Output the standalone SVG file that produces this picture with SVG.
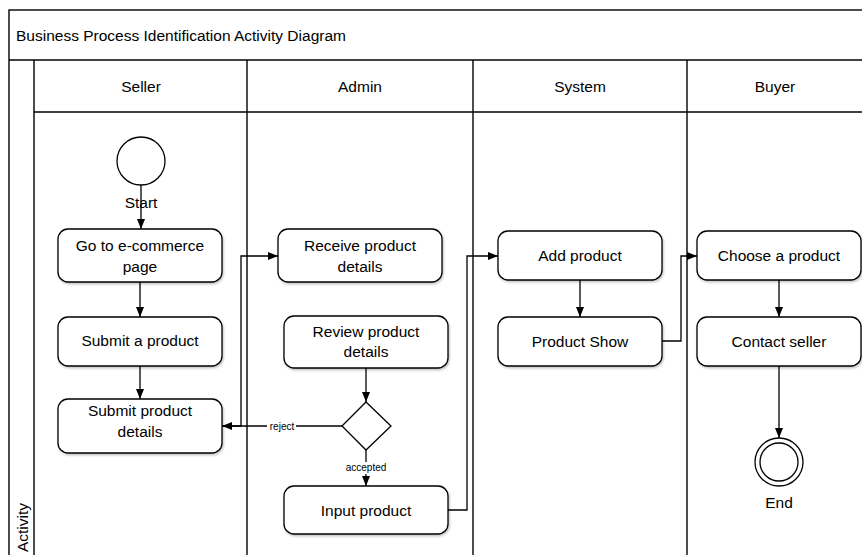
<svg xmlns="http://www.w3.org/2000/svg" width="862" height="555" viewBox="0 0 862 555">
<style>
text{font-family:"Liberation Sans",Arial,sans-serif;fill:#000}
.t{font-size:15.5px;text-anchor:middle}
.s{font-size:10px;text-anchor:middle}
.frame{fill:none;stroke:#000;stroke-width:1.4}
.box{fill:#fff;stroke:#000;stroke-width:1.3;filter:url(#sh)}
.ln{fill:none;stroke:#000;stroke-width:1.3}
.arr{fill:none;stroke:#000;stroke-width:1.3;marker-end:url(#ah)}
</style>
<defs>
<marker id="ah" viewBox="0 0 10 10" refX="10" refY="5" markerWidth="10" markerHeight="10" markerUnits="userSpaceOnUse" orient="auto">
<path d="M0,1 L10,5 L0,9 Z" fill="#000"/>
</marker>
<filter id="sh" x="-10%" y="-10%" width="130%" height="140%">
<feDropShadow dx="1" dy="1.5" stdDeviation="1" flood-color="#000" flood-opacity="0.25"/>
</filter>
</defs>
<rect width="862" height="555" fill="#fff"/>
<g id="pool">
<rect class="frame" x="9" y="10" width="900" height="600"/>
<line class="frame" x1="9" y1="60" x2="862" y2="60"/>
<line class="frame" x1="34" y1="60" x2="34" y2="555"/>
<line class="frame" x1="34" y1="112" x2="862" y2="112"/>
<line class="frame" x1="247" y1="60" x2="247" y2="555"/>
<line class="frame" x1="473" y1="60" x2="473" y2="555"/>
<line class="frame" x1="687" y1="60" x2="687" y2="555"/>
<text x="16" y="41" style="font-size:15.5px">Business Process Identification Activity Diagram</text>
<text class="t" x="141" y="92">Seller</text>
<text class="t" x="360" y="92">Admin</text>
<text class="t" x="580" y="92">System</text>
<text class="t" x="775" y="92">Buyer</text>
<text transform="translate(28,503) rotate(-90)" style="font-size:15.5px;text-anchor:end">Activity</text>
</g>
<g id="start">
<circle cx="141" cy="161" r="24" fill="#fff" stroke="#000" stroke-width="1.3"/>
<text class="t" x="141" y="208">Start</text>
</g>
<g id="goto"><rect class="box" x="58" y="229" width="164" height="53" rx="10"/><text class="t" x="140" y="251">Go to e-commerce</text><text class="t" x="140" y="272">page</text></g>
<g id="submit"><rect class="box" x="58" y="317" width="164" height="49" rx="10"/><text class="t" x="140" y="346">Submit a product</text></g>
<g id="submitdetails"><rect class="box" x="58" y="399" width="164" height="54" rx="10"/><text class="t" x="140" y="416">Submit product</text><text class="t" x="140" y="437">details</text></g>
<g id="receive"><rect class="box" x="278" y="229" width="164" height="53" rx="10"/><text class="t" x="360" y="251">Receive product</text><text class="t" x="360" y="272">details</text></g>
<g id="review"><rect class="box" x="284" y="316" width="164" height="52" rx="10"/><text class="t" x="366" y="337">Review product</text><text class="t" x="366" y="357">details</text></g>
<g id="decision"><path d="M366,402 L391,426 L366,450 L342,426 Z" fill="#fff" stroke="#000" stroke-width="1.3"/></g>
<g id="input"><rect class="box" x="284" y="486" width="164" height="48" rx="10"/><text class="t" x="366" y="516">Input product</text></g>
<g id="add"><rect class="box" x="498" y="231" width="164" height="49" rx="10"/><text class="t" x="580" y="261">Add product</text></g>
<g id="show"><rect class="box" x="498" y="317" width="164" height="49" rx="10"/><text class="t" x="580" y="347">Product Show</text></g>
<g id="choose"><rect class="box" x="697" y="231" width="164" height="49" rx="10"/><text class="t" x="779" y="261">Choose a product</text></g>
<g id="contact"><rect class="box" x="697" y="317" width="164" height="49" rx="10"/><text class="t" x="779" y="347">Contact seller</text></g>
<g id="end">
<circle cx="779" cy="462" r="24" fill="#fff" stroke="#000" stroke-width="1.3"/>
<circle cx="779" cy="462" r="19" fill="#fff" stroke="#000" stroke-width="1.3"/>
<text class="t" x="779" y="508">End</text>
</g>
<g id="connectors">
<path class="arr" d="M141,185 L141,229"/>
<path class="arr" d="M140,282 L140,317"/>
<path class="arr" d="M140,366 L140,399"/>
<path class="arr" d="M222,426 L241,426 L241,256 L278,256"/>
<path class="arr" d="M366,368 L366,402"/>
<path class="arr" d="M342,426 L222,426"/>
<path class="arr" d="M366,450 L366,486"/>
<path class="arr" d="M448,510 L467,510 L467,256 L498,256"/>
<path class="arr" d="M580,280 L580,317"/>
<path class="arr" d="M662,341 L681,341 L681,256 L697,256"/>
<path class="arr" d="M779,280 L779,317"/>
<path class="arr" d="M779,366 L779,438"/>
<rect x="267" y="420" width="29" height="12" fill="#fff"/>
<text class="s" x="282" y="429.5">reject</text>
<rect x="343" y="462" width="46" height="12" fill="#fff"/>
<text class="s" x="366" y="471">accepted</text>
</g>
</svg>
